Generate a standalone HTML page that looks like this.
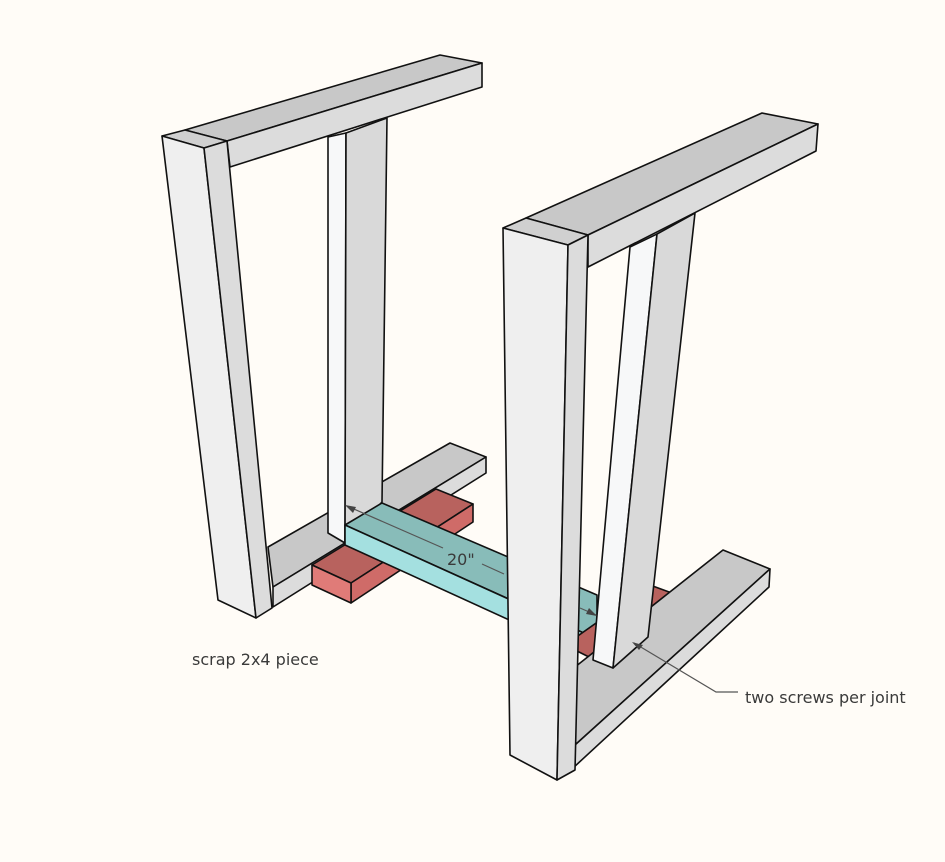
<!DOCTYPE html>
<html><head><meta charset="utf-8"><style>
html,body{margin:0;padding:0;background:#fffcf7;}
svg{display:block;}
text{font-family:"DejaVu Sans","Liberation Sans",sans-serif;fill:#3a3a3a;}
</style></head><body>
<svg width="945" height="862" viewBox="0 0 945 862" xmlns="http://www.w3.org/2000/svg">
<rect width="945" height="862" fill="#fffcf7"/>
<g stroke="#111" stroke-width="1.6" stroke-linejoin="round">
<!-- left frame bottom rail -->
<polygon points="268,547 450,443 486,457 273,587" fill="#c8c8c8"/>
<polygon points="273,587 486,457 486,473 273,607" fill="#dcdcdc"/>
<!-- left stile -->
<polygon points="328,137 346,133 345,543 328,533" fill="#f7f8f9"/>
<polygon points="346,133 387,118 382,502 345,543" fill="#d9d9d9"/>
<!-- left top rail -->
<polygon points="185,130 440,55 482,63 227,141" fill="#c8c8c8"/>
<polygon points="227,141 482,63 482,87 230,167" fill="#dcdcdc"/>
<!-- red block left -->
<polygon points="312,565 436,489 473,504 351,583" fill="#b8625e"/>
<polygon points="351,583 473,504 473,522 351,603" fill="#cf6b68"/>
<polygon points="312,565 351,583 351,603 312,585" fill="#e07b78"/>
<!-- teal board -->
<polygon points="382,503 597,595 597,639 345,525" fill="#88bcb9"/>
<polygon points="345,525 597,639 597,660 345,545" fill="#a4e0e0"/>
<!-- left leg -->
<polygon points="162,136 185,130 227,141 204,148" fill="#d0d0d0"/>
<polygon points="162,136 204,148 256,618 218,600" fill="#efefef"/>
<polygon points="204,148 227,141 272,608 256,618" fill="#dcdcdc"/>
<!-- red block right -->
<polygon points="565,645 650,585 680,596 595,660" fill="#b8625e"/>
<polygon points="595,660 680,596 680,612 595,676" fill="#cf6b68"/>
<!-- right bottom rail -->
<polygon points="723,550 770,569 575,745 575,667" fill="#c8c8c8"/>
<polygon points="770,569 769,587 573,768 575,745" fill="#dcdcdc"/>
<!-- right stile -->
<polygon points="630,247 657,234 613,668 593,660" fill="#f7f8f9"/>
<polygon points="657,234 695,213 648,637 613,668" fill="#d9d9d9"/>
<!-- right top rail -->
<polygon points="526,218 762,113 818,124 588,235" fill="#c8c8c8"/>
<polygon points="588,235 818,124 816,151 588,267" fill="#dcdcdc"/>
<!-- right leg -->
<polygon points="503,228 526,218 588,235 568,245" fill="#d0d0d0"/>
<polygon points="503,228 568,245 557,780 510,755" fill="#efefef"/>
<polygon points="568,245 588,235 575,770 557,780" fill="#dcdcdc"/>
</g>
<!-- dimension -->
<g stroke="#555" stroke-width="1.2" fill="none">
<line x1="347" y1="506" x2="443" y2="548"/>
<line x1="482" y1="564" x2="504" y2="574"/>
<line x1="580" y1="608" x2="596" y2="615"/>
<polyline points="634,643 716,692 738,692"/>
</g>
<g fill="#444">
<polygon points="345,505 356,507 353,513"/>
<polygon points="597,616 586,614 589,608"/>
<polygon points="632,642 643,645 639,650"/>
</g>
<text x="447" y="565" font-size="16">20"</text>
<text x="192" y="665" font-size="16">scrap 2x4 piece</text>
<text x="745" y="703" font-size="16">two screws per joint</text>
</svg>
</body></html>
